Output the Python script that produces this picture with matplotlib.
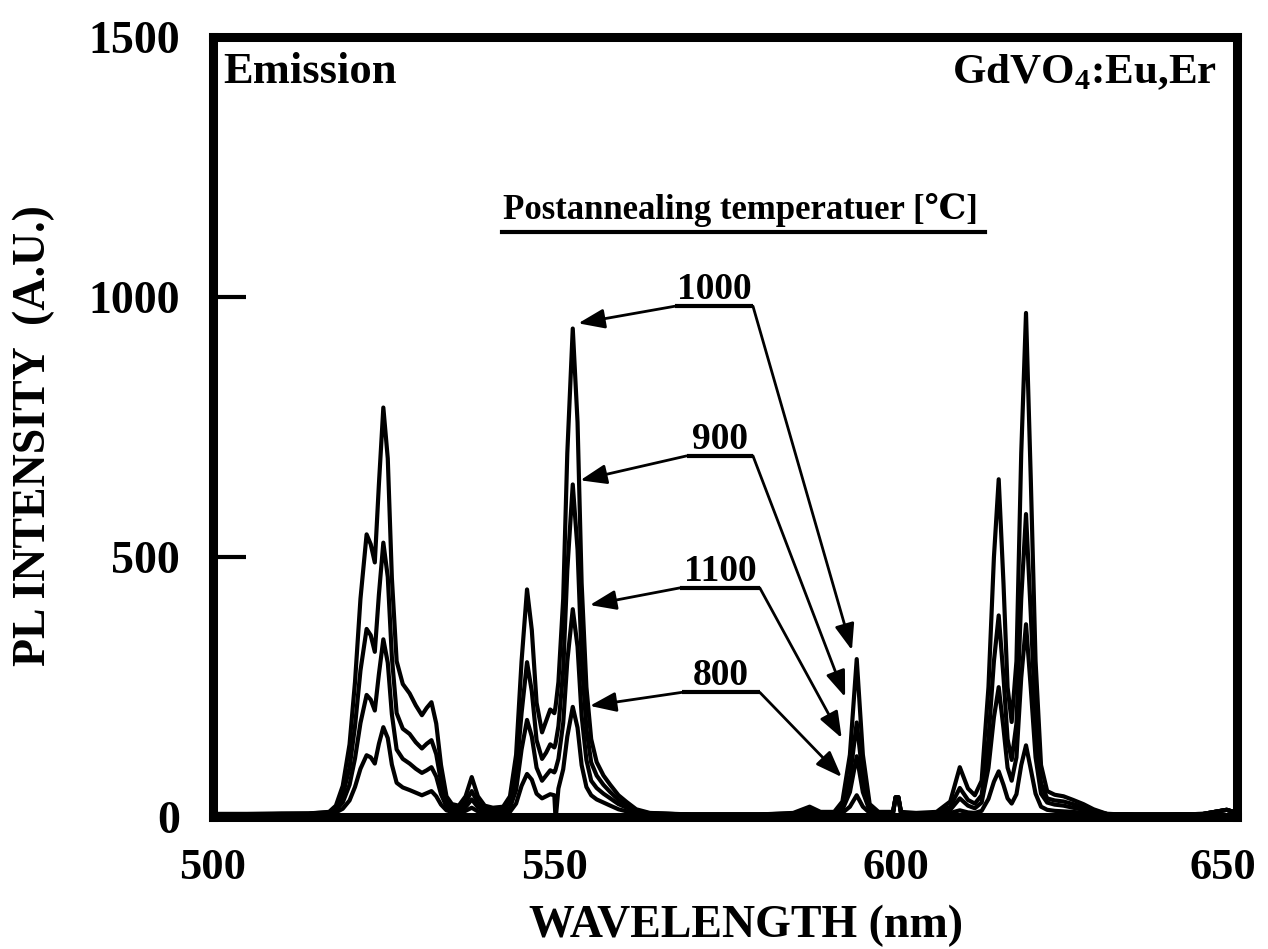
import matplotlib
matplotlib.use('Agg')
import matplotlib.pyplot as plt
from matplotlib.transforms import ScaledTranslation

plt.rcParams['font.family'] = ['Liberation Serif', 'DejaVu Serif', 'Noto Sans CJK JP']
plt.rcParams['font.weight'] = 'bold'
plt.rcParams['mathtext.fontset'] = 'custom'
plt.rcParams['mathtext.rm'] = 'Liberation Serif:bold'
plt.rcParams['mathtext.bf'] = 'Liberation Serif:bold'

# emission spectra (nm, arbitrary units) for each postannealing temperature
wavelength = [500, 505, 510, 514, 517, 518, 519, 520, 520.8, 521.6,
              522.5, 523.1, 523.7, 524.3, 524.95, 525.6, 526.2, 526.9, 527.8, 528.8,
              529.7, 530.6, 531.3, 532.0, 532.7, 533.4, 534.2, 535.0, 536.0, 537.0,
              537.9, 538.8, 539.8, 541.0, 542.5, 543.5, 544.4, 545.2, 546.0, 546.7,
              547.4, 548.2, 548.8, 549.4, 550.0, 550.15, 550.25, 550.6, 551.3, 551.9,
              552.7, 553.4, 554.0, 554.7, 555.4, 556.2, 557.2, 558.2, 559.4, 560.6,
              562.0, 564.0, 570, 580, 585, 587.4, 589, 591, 592.2, 593.3,
              594.3, 595.2, 596.2, 597.5, 599.6, 600.0, 600.4, 600.8, 603, 606,
              608.0, 609.4, 610.6, 611.6, 612.6, 613.6, 614.4, 615.1, 615.8, 616.4,
              617.0, 617.7, 618.4, 619.1, 619.8, 620.5, 621.3, 622.2, 623.3, 624.6,
              626.0, 627.5, 629.0, 631.0, 635, 640, 645, 648.5, 650]

pl_1000 = [6, 6, 7, 7, 10, 22, 60, 140, 260, 420,
           544, 525, 490, 640, 788, 690, 460, 300, 256, 238,
           215, 196, 210, 221, 180, 100, 40, 25, 22, 40,
           77, 40, 22, 18, 20, 40, 120, 300, 438, 360,
           220, 163, 185, 207, 200, 210, 220, 260, 420, 700,
           940, 760, 450, 250, 150, 106, 80, 62, 42, 29,
           15, 8, 5, 5, 8, 20, 10, 10, 30, 120,
           304, 120, 25, 10, 10, 38, 38, 10, 8, 10,
           30, 96, 55, 42, 70, 250, 500, 650, 450, 250,
           183, 300, 700, 970, 650, 300, 100, 50, 43, 40,
           33, 25, 15, 6, 5, 5, 6, 14, 8]

pl_900 = [6, 6, 6, 7, 9, 17, 42, 95, 175, 282,
          362, 350, 318, 428, 528, 462, 308, 200, 170, 160,
          144, 132, 141, 148, 121, 68, 28, 18, 16, 28,
          50, 28, 16, 14, 15, 28, 80, 200, 298, 242,
          148, 112, 124, 140, 134, 140, 147, 175, 282, 475,
          640, 515, 305, 170, 105, 80, 62, 48, 33, 23,
          12, 7, 5, 5, 7, 15, 9, 9, 20, 75,
          182, 75, 17, 8, 8, 38, 38, 8, 7, 8,
          20, 56, 33, 26, 42, 150, 300, 388, 270, 150,
          110, 180, 420, 583, 390, 180, 65, 36, 32, 30,
          25, 19, 12, 6, 5, 5, 6, 14, 8]

pl_1100 = [5, 5, 6, 6, 8, 13, 28, 62, 113, 181,
           235, 226, 205, 275, 342, 297, 198, 130, 112, 103,
           93, 85, 90, 96, 78, 44, 20, 14, 12, 19,
           34, 19, 12, 11, 11, 18, 52, 130, 187, 155,
           95, 70, 80, 90, 86, 90, 95, 112, 181, 300,
           400, 328, 195, 110, 70, 56, 45, 36, 25, 18,
           10, 7, 5, 5, 6, 12, 8, 8, 14, 48,
           117, 48, 12, 7, 7, 38, 38, 7, 6, 7,
           14, 36, 22, 17, 28, 95, 192, 250, 171, 95,
           70, 115, 268, 371, 248, 115, 45, 28, 24, 22,
           18, 14, 10, 6, 5, 5, 6, 14, 8]

pl_800 = [5, 5, 5, 5, 7, 9, 16, 32, 58, 93,
          119, 115, 103, 141, 173, 152, 101, 66, 57, 52,
          47, 42, 46, 50, 40, 24, 13, 10, 9, 12,
          18, 11, 8, 8, 8, 10, 26, 60, 83, 72,
          45, 36, 40, 44, 42, 4, 4, 55, 92, 155,
          212, 172, 100, 58, 42, 34, 28, 22, 15, 11,
          7, 6, 5, 5, 5, 8, 6, 6, 8, 20,
          42, 20, 8, 6, 6, 38, 38, 6, 5, 6,
          8, 13, 9, 8, 12, 35, 68, 88, 62, 36,
          26, 44, 100, 138, 92, 45, 20, 14, 12, 11,
          10, 8, 7, 5, 5, 5, 6, 14, 8]

spectra = [pl_1000, pl_900, pl_1100, pl_800]
temps = ['1000', '900', '1100', '800']

# label placement: underline height, underline ends, arrow tips at ~553 nm and ~594 nm
label_y = [983, 695, 441, 240]
label_x0 = [567.7, 569.4, 568.4, 568.7]
label_x1 = [579.1, 579.1, 580.1, 580.1]
tip_green = [(553.5, 950), (553.8, 648), (555.2, 408), (555.2, 214)]
tip_red = [(593.6, 321), (592.6, 231), (592.1, 152), (592.1, 77)]

fig = plt.figure(figsize=(12.68, 9.49), dpi=100)
ax = fig.add_axes([0.168, 0.139, 0.8075, 0.8215])

for pl in spectra:
    ax.plot(wavelength, pl, color='black', linewidth=3, solid_joinstyle='round')

ax.set_xlim(500, 650)
ax.set_ylim(0, 1500)
ax.set_xticks([500, 550, 600, 650])
ax.set_yticks([0, 500, 1000, 1500])

for spine in ax.spines.values():
    spine.set_linewidth(6.5)
    spine.set_capstyle('projecting')

ax.tick_params(axis='y', direction='in', length=24, width=3, pad=24, labelsize=33)
ax.tick_params(axis='x', length=0, pad=22, labelsize=32)

# last x label sits a little inside the right edge
lbl = ax.get_xticklabels()[-1]
lbl.set_transform(lbl.get_transform() + ScaledTranslation(-10 / 72, 0, fig.dpi_scale_trans))

ax.set_xlabel('WAVELENGTH (nm)', fontsize=33, fontweight='bold')
ax.xaxis.set_label_coords(0.521, -0.112)
ax.set_ylabel('PL INTENSITY  (A.U.)', fontsize=33, fontweight='bold')
ax.yaxis.set_label_coords(-0.154, 0.49)

# corner labels
ax.text(0.0098, 0.9416, 'Emission', transform=ax.transAxes, fontsize=32,
        fontweight='bold', ha='left', va='baseline')
ax.text(0.980, 0.9416, r'GdVO$_{\mathbf{4}}$:Eu,Er', transform=ax.transAxes,
        fontsize=31, fontweight='bold', ha='right', va='baseline')

# heading with underline
ax.text(577.2, 1150, 'Postannealing temperatuer [℃]', fontsize=25,
        fontweight='bold', ha='center', va='baseline')
ax.plot([542.3, 613.1], [1126, 1126], color='black', linewidth=3)

# temperature labels with arrows to the 553 nm and 594 nm peaks
for i in range(len(temps)):
    xc = (label_x0[i] + label_x1[i]) / 2
    ax.text(xc, label_y[i] + 14, temps[i], fontsize=27, fontweight='bold',
            ha='center', va='baseline')
    ax.plot([label_x0[i], label_x1[i]], [label_y[i], label_y[i]],
            color='black', linewidth=3, solid_capstyle='butt')
    arrow = dict(arrowstyle='-|>,head_length=0.8,head_width=0.3',
                 color='black', linewidth=2, mutation_scale=20,
                 shrinkA=0, shrinkB=0)
    ax.annotate('', xy=tip_green[i], xytext=(label_x0[i], label_y[i]),
                arrowprops=arrow)
    ax.annotate('', xy=tip_red[i], xytext=(label_x1[i], label_y[i]),
                arrowprops=arrow)

plt.savefig('out.png', dpi=100)
